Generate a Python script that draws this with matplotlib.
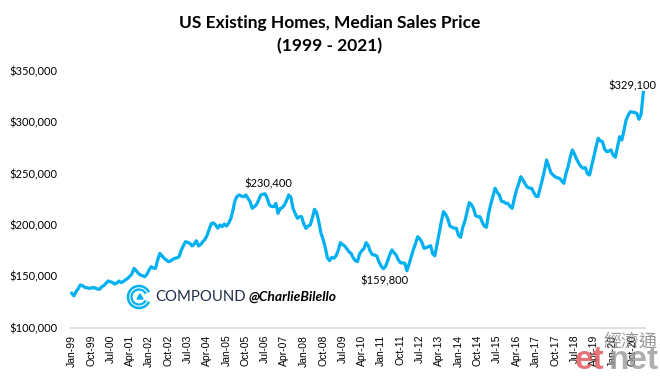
import numpy as np
import pandas as pd
import matplotlib
matplotlib.use("Agg")
import matplotlib.pyplot as plt
from matplotlib.patches import Arc, Polygon
from matplotlib.ticker import FuncFormatter

# Median sales price, existing homes (thousands of $), Jan-1999 .. Mar-2021
p1999 = [133.5, 131.0, 135.0, 138.0, 141.6, 141.0, 139.3, 139.0, 138.4, 138.5, 139.3, 138.5]
p2000 = [137.7, 137.5, 139.9, 141.0, 143.5, 145.5, 144.8, 144.0, 142.6, 143.5, 145.5, 143.8]
p2001 = [145.0, 146.5, 148.0, 150.0, 152.3, 157.8, 155.5, 153.0, 151.3, 150.5, 149.7, 152.0]
p2002 = [156.2, 159.4, 158.0, 157.8, 166.0, 172.4, 170.0, 167.6, 166.0, 164.3, 165.0, 166.5]
p2003 = [167.6, 168.0, 169.2, 175.7, 180.0, 183.8, 183.0, 182.2, 179.6, 181.5, 184.7, 179.6]
p2004 = [181.0, 183.8, 186.0, 190.0, 196.0, 201.6, 202.0, 200.0, 197.0, 200.0, 198.4, 201.0]
p2005 = [199.0, 201.7, 206.0, 214.0, 224.0, 228.0, 229.3, 228.0, 227.6, 229.3, 226.0, 222.7]
p2006 = [216.3, 217.9, 220.0, 224.4, 229.3, 230.0, 230.4, 226.0, 219.5, 218.0, 217.9, 221.1]
p2007 = [211.4, 216.0, 217.0, 219.5, 224.0, 229.3, 227.0, 216.0, 211.4, 206.6, 208.1, 208.1]
p2008 = [201.0, 196.8, 199.0, 200.0, 207.0, 215.3, 212.0, 203.0, 192.0, 186.0, 178.0, 168.0]
p2009 = [165.3, 168.6, 167.6, 170.0, 175.0, 182.8, 181.0, 179.6, 177.0, 174.0, 172.4, 168.0]
p2010 = [165.2, 164.3, 172.0, 175.0, 177.0, 182.8, 180.0, 174.0, 171.0, 170.8, 169.8, 164.0]
p2011 = [160.0, 157.5, 159.4, 165.0, 171.0, 175.7, 173.0, 170.8, 166.0, 163.3, 163.0, 162.7]
p2012 = [155.5, 162.0, 169.2, 176.0, 182.0, 188.6, 186.5, 183.0, 177.3, 178.0, 179.0, 179.9]
p2013 = [172.0, 170.0, 181.0, 191.9, 203.0, 213.0, 210.5, 206.0, 199.0, 197.8, 197.0, 196.8]
p2014 = [190.0, 188.0, 198.0, 204.0, 213.0, 221.8, 220.0, 216.0, 209.0, 208.1, 208.1, 203.0]
p2015 = [199.0, 197.8, 211.0, 220.0, 228.0, 235.8, 232.0, 229.3, 223.0, 222.7, 221.1, 221.0]
p2016 = [218.0, 216.3, 226.0, 234.1, 240.0, 247.1, 244.0, 240.0, 237.0, 236.0, 235.8, 232.0]
p2017 = [228.0, 227.6, 236.0, 243.9, 253.0, 263.3, 257.0, 251.0, 248.7, 247.0, 246.0, 245.5]
p2018 = [243.0, 240.6, 250.0, 256.8, 266.0, 273.1, 269.0, 264.0, 260.0, 257.0, 255.3, 256.0]
p2019 = [250.0, 248.7, 258.0, 266.6, 276.0, 284.5, 282.0, 281.2, 274.0, 271.4, 272.0, 273.1]
p2020 = [268.0, 266.0, 276.0, 286.0, 282.8, 292.0, 302.3, 307.0, 310.4, 310.0, 309.5, 308.8]
p2021 = [303.0, 308.0, 329.1]

prices = (p1999 + p2000 + p2001 + p2002 + p2003 + p2004 + p2005 + p2006 + p2007 + p2008
          + p2009 + p2010 + p2011 + p2012 + p2013 + p2014 + p2015 + p2016 + p2017 + p2018
          + p2019 + p2020 + p2021)
prices = [v * 1000 for v in prices]
dates = pd.date_range("1999-01-01", periods=len(prices), freq="MS")

# labelled points
peak_label = "$230,400"
low_label = "$159,800"
last_label = "$329,100"
peak_idx = 12 * 7 + 6    # Jul-06
low_idx = 12 * 12 + 1    # Feb-11
last_idx = len(prices) - 1

fnt = "Lato"
blue = "#00b0f0"

fig = plt.figure(figsize=(6.6, 3.77), dpi=100)
ax = fig.add_axes([70 / 660, 1 - 327.7 / 377, 575 / 660, (327.7 - 71) / 377])

x = np.arange(len(prices))
ax.plot(x, prices, color=blue, lw=2.3, solid_joinstyle="round")

ax.set_xlim(-0.8, len(prices) - 0.2)
ax.set_ylim(100000, 350000)
ax.set_yticks(np.arange(100000, 350001, 50000))
ax.yaxis.set_major_formatter(FuncFormatter(lambda v, p: f"${v:,.0f}"))
for lbl in ax.get_yticklabels():
    lbl.set_fontfamily(fnt)
    lbl.set_fontsize(8)

tick_pos = x[::9]
ax.set_xticks(tick_pos)
ax.set_xticklabels([dates[i].strftime("%b-%y") for i in tick_pos], rotation=90,
                   fontsize=7.5, family="Liberation Sans")
ax.tick_params(length=0)
ax.tick_params(axis="x", pad=5)
ax.tick_params(axis="y", pad=9)

for s in ["top", "right", "left"]:
    ax.spines[s].set_visible(False)
ax.spines["bottom"].set_color("#d9d9d9")
ax.spines["bottom"].set_linewidth(1.2)

ax.annotate(peak_label, (peak_idx, prices[peak_idx]), xytext=(2, 3), textcoords="offset points",
            ha="center", va="bottom", fontsize=8, family=fnt)
ax.annotate(low_label, (low_idx, prices[low_idx]), xytext=(1, -5), textcoords="offset points",
            ha="center", va="top", fontsize=8, family=fnt)
ax.annotate(last_label, (last_idx, prices[last_idx]), xytext=(-8, 1), textcoords="offset points",
            ha="center", va="bottom", fontsize=8, family=fnt)

fig.text(0.5, 1 - 23 / 377, "US Existing Homes, Median Sales Price", ha="center", va="center",
         fontsize=12.5, fontweight="bold", family=fnt)
fig.text(0.5, 1 - 46 / 377, "(1999 - 2021)", ha="center", va="center",
         fontsize=12.5, fontweight="bold", family=fnt)

# COMPOUND logo watermark
lx, ly = 139, 297
for r, w in [(22, 1.8), (15, 1.6)]:
    fig.add_artist(Arc((lx / 660, 1 - ly / 377), r / 660, r / 377, theta1=40, theta2=320,
                       transform=fig.transFigure, color=blue, lw=w))
fig.add_artist(Polygon([[(lx + 1) / 660, 1 - (ly - 3) / 377], [(lx - 2) / 660, 1 - (ly + 2) / 377],
                        [(lx + 4) / 660, 1 - (ly + 2) / 377]], closed=True,
                       transform=fig.transFigure, color=blue))
fig.text(155 / 660, 1 - ly / 377, "COMPOUND", ha="left", va="center", fontsize=10.7,
         color="#1f2a44", family=fnt)
fig.text(248 / 660, 1 - ly / 377, "@CharlieBilello", ha="left", va="center", fontsize=10,
         color="black", family=fnt, fontweight="bold", fontstyle="italic")

# etnet watermark
fig.text(630 / 660, 1 - 342 / 377, "經濟通", ha="center", va="center", fontsize=13,
         color="#8c8c8c", family=["Noto Sans CJK TC", "DejaVu Sans"], alpha=0.9)
fig.text(575 / 660, 1 - 376 / 377, "et", ha="left", va="bottom", fontsize=24,
         color="#e05a5e", family="Liberation Sans", fontweight="bold", alpha=0.85)
fig.text(609 / 660, 1 - 376 / 377, "net", ha="left", va="bottom", fontsize=24,
         color="#9a9a9a", family="Liberation Sans", fontweight="bold", alpha=0.8)

fig.savefig("out.png", dpi=100)
